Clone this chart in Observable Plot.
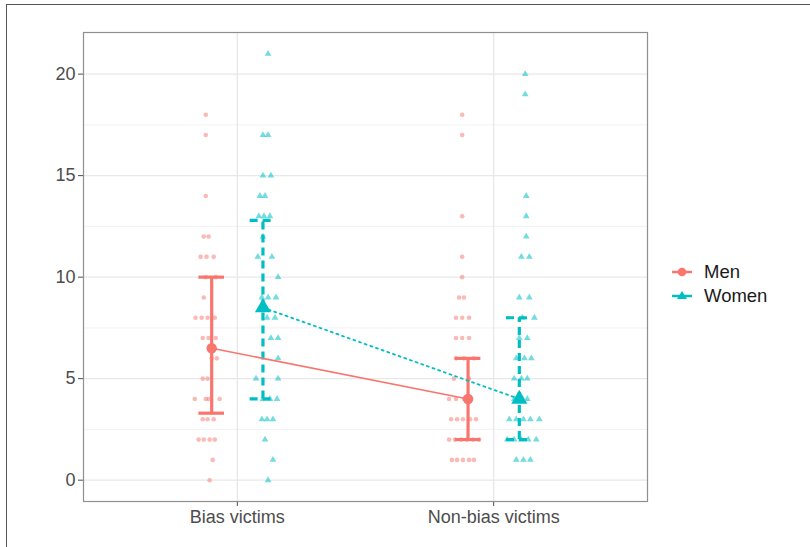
<!DOCTYPE html>
<html>
<head>
<meta charset="utf-8">
<script src="https://cdn.jsdelivr.net/npm/d3@7"></script>
<script src="https://cdn.jsdelivr.net/npm/@observablehq/plot@0.6"></script>
<style>
  html, body { margin: 0; padding: 0; background: #fff; overflow: hidden; }
  body { width: 810px; height: 547px; position: relative; font-family: "Liberation Sans", Arial, sans-serif; }
  #outer { position: absolute; left: 6px; top: 4px; width: 1200px; height: 1200px; border-top: 1.5px solid #555; border-left: 1.5px solid #555; }
  #chart { position: absolute; left: 0; top: 0; }
  #legend { position: absolute; left: 671px; top: 260px; font-size: 18.5px; color: #1a1a1a; }
  #legend .row { display: flex; align-items: center; height: 24px; }
  #legend svg { margin-right: 11px; }
</style>
</head>
<body>
<div id="outer"></div>
<div id="chart"></div>
<div id="legend"></div>
<script>
// ---- data ----
const categories = ["Bias victims", "Non-bias victims"];
const groups = ["Men", "Women"];
const yTicks = [0, 5, 10, 15, 20];
const yMinorTicks = [2.5, 7.5, 12.5, 17.5];

// individual responses (value) and horizontal jitter (in category units)
const biasMenValues = [18,17,14,12,12,11,11,11,10,10,9,8,8,8,8,7,7,7,6,6,5,5,4,4,4,4,3,3,3,2,2,2,2,1,0];
const biasMenJitter = [-0.023,-0.023,-0.023,-0.031,-0.012,-0.043,-0.020,0.008,-0.023,0.016,-0.031,-0.063,-0.039,-0.016,0.012,-0.035,-0.012,0.016,0.020,0,-0.035,-0.016,-0.066,-0.023,-0.012,0.031,-0.035,-0.016,0.008,-0.051,-0.031,-0.008,0.012,0.004,-0.008];

const biasWomenValues = [21,17,17,15,15,14,14,13,13,13,12,11,11,10,9,9,9,8,8,7,7,6,5,5,4,4,4,3,3,3,2,1,0];
const biasWomenJitter = [0.020,0,0.020,0,0.031,-0.012,0.008,-0.016,0.004,0.027,0,-0.020,0.035,0.059,-0.004,0.020,0.051,0.016,0.047,0.031,0.059,0.059,-0.027,0.059,0,0.027,0.055,-0.004,0.016,0.039,0.008,0.039,0.020];

const nonBiasMenValues = [18,17,13,11,10,9,9,8,8,8,7,7,7,6,6,6,5,5,4,4,4,3,3,3,3,3,2,2,2,2,2,2,1,1,1,1,1];
const nonBiasMenJitter = [-0.023,-0.023,-0.023,-0.023,-0.023,-0.035,-0.016,-0.047,-0.023,0.004,-0.047,-0.023,0.004,-0.047,-0.016,0.023,-0.055,0.004,-0.074,-0.047,-0.016,-0.066,-0.043,-0.020,0.008,0.031,-0.074,-0.051,-0.027,-0.004,0.020,0.043,-0.063,-0.043,-0.020,0.004,0.023];

const nonBiasWomenValues = [20,19,14,13,12,11,11,9,9,8,8,7,7,6,6,6,5,5,5,4,4,3,3,3,3,3,2,2,2,2,2,1,1,1];
const nonBiasWomenJitter = [0.023,0.023,0.027,0.027,0.027,0.008,0.039,0,0.039,0.012,0.059,0,0.031,-0.012,0.020,0.047,-0.020,0.008,0.031,-0.020,0.031,-0.039,-0.012,0.016,0.043,0.078,-0.047,-0.020,0.008,0.035,0.066,-0.012,0.016,0.043];

// group summaries: mean and error-bar limits, per category
const menMeans = [6.5, 4.0];
const menLower = [3.3, 2.0];
const menUpper = [10.0, 6.0];
const womenMeans = [8.5, 4.0];
const womenLower = [4.0, 2.0];
const womenUpper = [12.8, 8.0];

// ---- build tables ----
const colors = {Men: "#F8766D", Women: "#00BFC4"};
const dodge = {Men: -0.1, Women: 0.1};
const xPos = (ci, g) => ci + 1 + dodge[g];

function pts(values, jitter, ci, g) {
  return values.map((v, i) => ({category: categories[ci], group: g, value: v, x: xPos(ci, g) + jitter[i]}));
}
const points = [
  ...pts(biasMenValues, biasMenJitter, 0, "Men"),
  ...pts(biasWomenValues, biasWomenJitter, 0, "Women"),
  ...pts(nonBiasMenValues, nonBiasMenJitter, 1, "Men"),
  ...pts(nonBiasWomenValues, nonBiasWomenJitter, 1, "Women")
];
function summ(means, lo, hi, g) {
  return categories.map((c, ci) => ({category: c, group: g, x: xPos(ci, g), mean: means[ci], lo: lo[ci], hi: hi[ci]}));
}
const menSummary = summ(menMeans, menLower, menUpper, "Men");
const womenSummary = summ(womenMeans, womenLower, womenUpper, "Women");
const capHalf = 0.05;

function errorMarks(data, g, dash) {
  const c = colors[g];
  return [
    Plot.ruleX(data, {x: "x", y1: "lo", y2: "hi", stroke: c, strokeWidth: 3.2, strokeDasharray: dash}),
    Plot.ruleY(data, {y: "lo", x1: d => d.x - capHalf, x2: d => d.x + capHalf, stroke: c, strokeWidth: 3.2, strokeDasharray: dash}),
    Plot.ruleY(data, {y: "hi", x1: d => d.x - capHalf, x2: d => d.x + capHalf, stroke: c, strokeWidth: 3.2, strokeDasharray: dash})
  ];
}

const chart = Plot.plot({
  width: 660,
  height: 547,
  marginLeft: 83,
  marginRight: 13,
  marginTop: 32,
  marginBottom: 46,
  style: {fontSize: "18px", fontFamily: "'Liberation Sans', Arial, sans-serif", color: "#4d4d4d", background: "transparent", overflow: "visible"},
  x: {type: "linear", domain: [0.4, 2.6], ticks: [1, 2], tickFormat: d => categories[Math.round(d) - 1], tickSize: 5, tickPadding: 4, label: null},
  y: {domain: [-1.05, 22.05], ticks: yTicks, tickSize: 5, tickPadding: 3, label: null},
  marks: [
    Plot.ruleY(yMinorTicks, {stroke: "#efefef", strokeWidth: 0.8}),
    Plot.ruleY(yTicks, {stroke: "#e8e8e8", strokeWidth: 1.3}),
    Plot.ruleX([1, 2], {stroke: "#e8e8e8", strokeWidth: 1.3}),
    Plot.dot(points.filter(d => d.group === "Men"), {x: "x", y: "value", r: 2.3, fill: colors.Men, fillOpacity: 0.5, symbol: "circle"}),
    Plot.dot(points.filter(d => d.group === "Women"), {x: "x", y: "value", r: 2.5, fill: colors.Women, fillOpacity: 0.55, symbol: "triangle"}),
    ...errorMarks(menSummary, "Men", null),
    ...errorMarks(womenSummary, "Women", "8,5"),
    Plot.line(menSummary, {x: "x", y: "mean", stroke: colors.Men, strokeWidth: 1.6}),
    Plot.line(womenSummary, {x: "x", y: "mean", stroke: colors.Women, strokeWidth: 1.8, strokeDasharray: "2,4"}),
    Plot.dot(menSummary, {x: "x", y: "mean", r: 5.2, fill: colors.Men, symbol: "circle"}),
    Plot.dot(womenSummary, {x: "x", y: "mean", r: 6, fill: colors.Women, symbol: "triangle"}),
    Plot.frame({stroke: "#8f8f8f", strokeWidth: 1.2})
  ]
});
document.getElementById("chart").appendChild(chart);

// ---- legend ----
const legend = document.getElementById("legend");
groups.forEach(g => {
  const row = document.createElement("div");
  row.className = "row";
  const shape = g === "Men"
    ? `<circle cx="11" cy="8" r="4.3" fill="${colors[g]}"/>`
    : `<path d="M11,3 L16,11 L6,11 Z" fill="${colors[g]}"/>`;
  row.innerHTML = `<svg width="22" height="16"><line x1="1" x2="21" y1="8" y2="8" stroke="${colors[g]}" stroke-width="2.5"/>${shape}</svg><span>${g}</span>`;
  legend.appendChild(row);
});
</script>
</body>
</html>
